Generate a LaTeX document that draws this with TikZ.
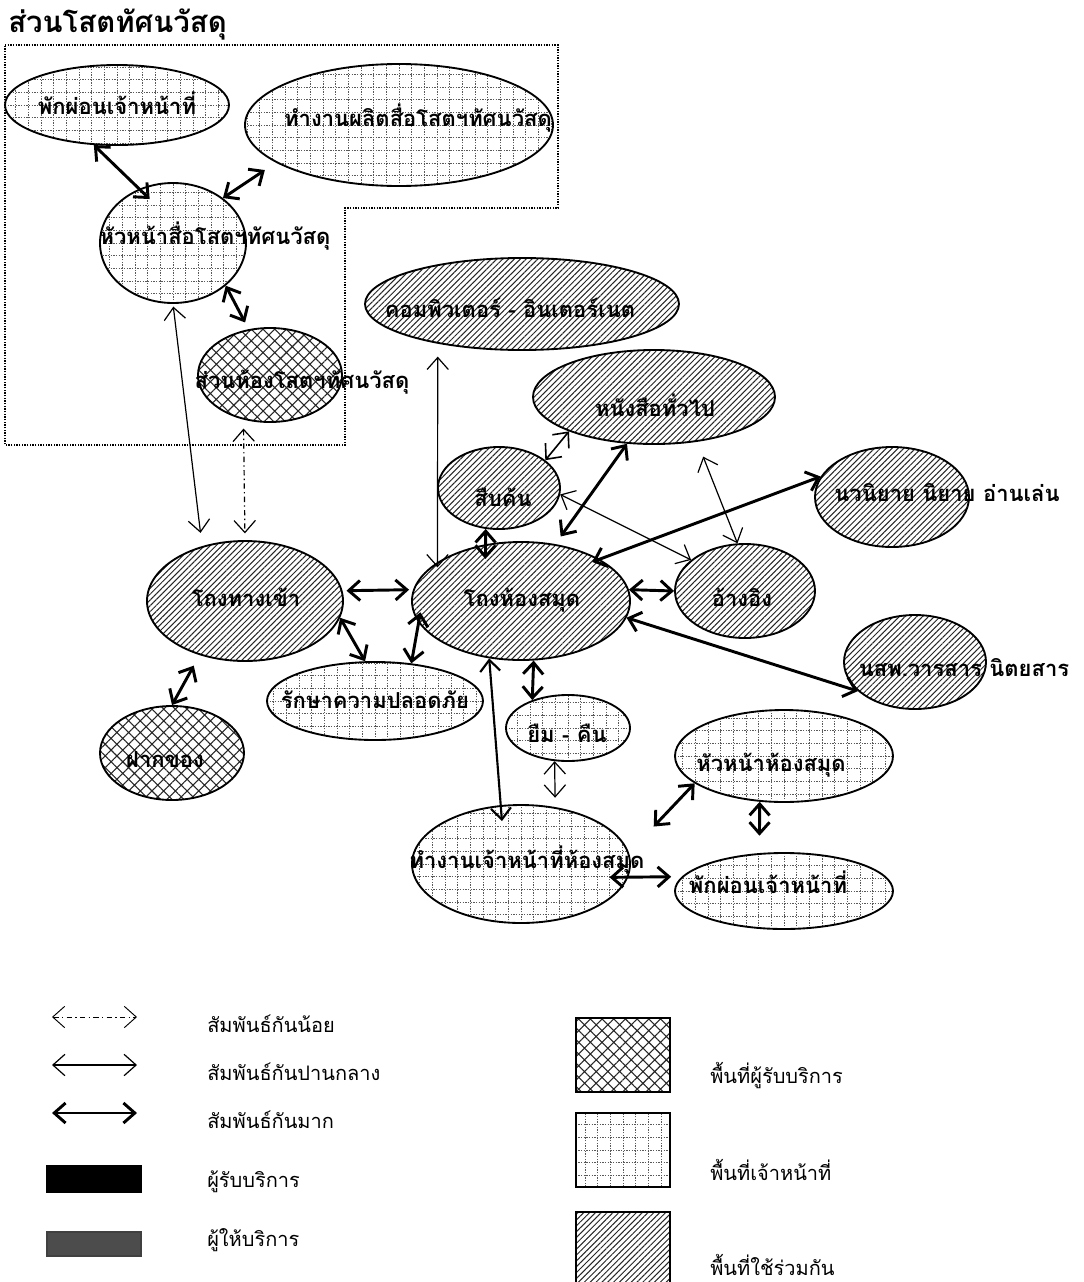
\documentclass[tikz,border=0pt]{standalone}
\usepackage{fontspec}
\newfontfamily\thai[Script=Thai]{Loma}
\usetikzlibrary{shapes.geometric,arrows.meta,patterns.meta}

\tikzset{
  area/.style 2 args={ellipse, draw=black, line width=1.4pt,
    minimum width=1.5pt*#1, minimum height=1.5pt*#2, inner sep=0pt},
  sharedfill/.style={pattern={Lines[angle=45,distance=3.1pt,line width=0.75pt]}, pattern color=black!85},
  clientfill/.style={pattern={Hatch[angle=45,distance=6.2pt,line width=0.8pt]}, pattern color=black!85},
  stafffill/.style={path picture={\draw[black!65, line width=0.55pt, dash pattern=on 1pt off 1pt]
      (path picture bounding box.south west) grid[step=9.5pt] (path picture bounding box.north east);}},
  lbl/.style={font=\thai\bfseries\fontsize{16.5}{19}\selectfont, inner sep=0pt},
  legtext/.style={font=\thai\fontsize{15}{18}\selectfont, inner sep=0pt, anchor=west},
  relstrong/.style={line width=2.2pt, {Straight Barb[length=8.5pt,width=15pt]}-{Straight Barb[length=8.5pt,width=15pt]}},
  relmid/.style={line width=0.9pt, {Straight Barb[length=9pt,width=16pt]}-{Straight Barb[length=9pt,width=16pt]}},
  relweak/.style={line width=0.9pt, dash pattern=on 4pt off 2.5pt on 1pt off 2.5pt,
    {Straight Barb[length=9pt,width=16pt]}-{Straight Barb[length=9pt,width=16pt]}},
  swatch/.style={rectangle, draw=black, line width=1.3pt, inner sep=0pt},
}

\begin{document}
\begin{tikzpicture}[x=0.75pt,y=-0.75pt]
\useasboundingbox (0,0) rectangle (1084,1282);

% audio-visual section boundary
\node[font=\thai\bfseries\fontsize{22}{25}\selectfont, anchor=west, inner sep=0pt] (title) at (8,24) {ส่วนโสตทัศนวัสดุ};
\draw[line width=0.9pt, dash pattern=on 1pt off 1pt] (5,45) -- (558,45) -- (558,208) -- (345,208) -- (345,445) -- (5,445) -- cycle;

% areas
\node[area={112}{40}, stafffill] (pakA) at (117,105) {};
\node[area={154}{61}, stafffill] (prod) at (399,125) {};
\node[area={73}{60}, stafffill] (headAV) at (173,243) {};
\node[area={72}{47}, clientfill] (avroom) at (270,375) {};
\node[area={157}{46}, sharedfill] (comp) at (522,304) {};
\node[area={121}{47}, sharedfill] (books) at (654,397) {};
\node[area={61}{41}, sharedfill] (search) at (499,488) {};
\node[area={77}{50}, sharedfill] (novel) at (892,497) {};
\node[area={109}{59}, sharedfill] (hall) at (521,601) {};
\node[area={70}{47}, sharedfill] (ref) at (745,591) {};
\node[area={71}{47}, sharedfill] (news) at (915,662) {};
\node[area={98}{60}, sharedfill] (entry) at (245,601) {};
\node[area={108}{39}, stafffill] (secur) at (375,701) {};
\node[area={72}{47}, clientfill] (depo) at (172,753) {};
\node[area={62}{33}, stafffill] (loan) at (568,728) {};
\node[area={109}{46}, stafffill] (headLib) at (784,756) {};
\node[area={109}{59}, stafffill] (staff) at (521,864) {};
\node[area={109}{38}, stafffill] (pakB) at (784,891) {};

% relations
\draw[relstrong, shorten >=-11pt] (pakA.-120) -- (headAV.122);
\draw[relstrong, shorten >=10pt] (headAV.42) -- (prod.-163);
\draw[relstrong, shorten >=6pt] (headAV.-39) -- (avroom.115);
\draw[relmid, shorten <=2pt, shorten >=10pt] (headAV.south) -- (entry.128);
\draw[relweak, shorten <=7pt, shorten >=5pt] (avroom.-121) -- (entry.north);
\draw[relmid, shorten <=10pt, shorten >=-4pt] (comp.-155.5) -- (hall.155.9);
\draw[relmid, line width=1.2pt] (search.31) -- (books.-158);
\draw[relstrong, shorten >=7pt] (books.-120) -- (hall.59);
\draw[relstrong, shorten >=-11pt] (search.-108) -- (hall.122);
\draw[relmid] (search.-6) -- (ref.150);
\draw[relmid, shorten <=12pt] (books.-46) -- (ref.99);
\draw[relstrong, shorten >=-6pt] (novel.164) -- (hall.28);
\draw[relstrong] (hall.6) -- (ref.180);
\draw[relstrong] (news.-153) -- (hall.-9);
\draw[relstrong, shorten <=3pt, shorten >=3pt] (entry.6.5) -- (hall.174);
\draw[relstrong] (entry.-10) -- (secur.104);
\draw[relstrong, shorten >=-8pt] (secur.46) -- (hall.-168);
\draw[relstrong, shorten <=9pt] (entry.-130) -- (depo.north);
\draw[relstrong] (hall.-78) -- (loan.142);
\draw[relstrong, line width=1.6pt, shorten >=-12pt] (hall.-119) -- (staff.109);
\draw[relmid, shorten >=7pt] (loan.-112) -- (staff.59);
\draw[relstrong, shorten >=27pt] (headLib.-163) -- (staff.6);
\draw[relstrong, shorten >=13pt] (headLib.-118) -- (pakB.123);
\draw[relstrong, shorten <=-14pt, shorten >=8pt] (staff.-7) -- (pakB.172);

% labels
\node[lbl] (tpakA) at (117,103) {พักผ่อนเจ้าหน้าที่};
\node[lbl] (tprod) at (418,118) {ทำงานผลิตสื่อโสตฯทัศนวัสดุ};
\node[lbl] (theadAV) at (215,236) {หัวหน้าสื่อโสตฯทัศนวัสดุ};
\node[lbl] (tavroom) at (302,382) {ส่วนห้องโสตฯทัศนวัสดุ};
\node[lbl] (tcomp) at (510,308) {คอมพิวเตอร์ - อินเตอร์เนต};
\node[lbl] (tbooks) at (655,405) {หนังสือทั่วไป};
\node[lbl] (tsearch) at (503,497) {สืบค้น};
\node[lbl] (tnovel) at (947,493) {นวนิยาย นิยาย อ่านเล่น};
\node[lbl] (thall) at (522,600) {โถงห้องสมุด};
\node[lbl] (tref) at (742,597) {อ้างอิง};
\node[lbl] (tnews) at (964,668) {นสพ.วารสาร นิตยสาร};
\node[lbl] (tentry) at (246,597) {โถงทางเข้า};
\node[lbl] (tsecur) at (375,700) {รักษาความปลอดภัย};
\node[lbl] (tdepo) at (165,760) {ฝากของ};
\node[lbl] (tloan) at (567,733) {ยืม - คืน};
\node[lbl] (theadLib) at (771,765) {หัวหน้าห้องสมุด};
\node[lbl] (tstaff) at (527,860) {ทำงานเจ้าหน้าที่ห้องสมุด};
\node[lbl] (tpakB) at (768,882) {พักผ่อนเจ้าหน้าที่};

% legend: relation strength
\coordinate (lwa) at (52,1017); \coordinate (lwb) at (137,1017);
\coordinate (lma) at (52,1065); \coordinate (lmb) at (137,1065);
\coordinate (lsa) at (52,1113); \coordinate (lsb) at (137,1113);
\draw[relweak, line width=0.7pt] (lwa) -- (lwb);
\draw[relmid] (lma) -- (lmb);
\draw[relstrong] (lsa) -- (lsb);
\node[legtext] (lw) at (207,1024) {สัมพันธ์กันน้อย};
\node[legtext] (lm) at (207,1072) {สัมพันธ์กันปานกลาง};
\node[legtext] (ls) at (207,1120) {สัมพันธ์กันมาก};

% legend: users
\node[swatch, fill=black, minimum width=71pt, minimum height=19pt] (lrecv) at (94,1179) {};
\node[swatch, draw=black!75, fill=black!70, minimum width=71pt, minimum height=18pt] (lprov) at (94,1244) {};
\node[legtext] (trecv) at (207,1182) {ผู้รับบริการ};
\node[legtext] (tprov) at (207,1240) {ผู้ให้บริการ};

% legend: areas
\node[swatch, clientfill, minimum width=71pt, minimum height=55pt] (lclient) at (623,1055) {};
\node[swatch, stafffill, minimum width=71pt, minimum height=55pt] (lstaff) at (623,1150) {};
\node[swatch, sharedfill, minimum width=71pt, minimum height=57pt] (lshared) at (623,1250) {};
\node[legtext] (tclient) at (710,1075) {พื้นที่ผู้รับบริการ};
\node[legtext] (tstaffarea) at (710,1170) {พื้นที่เจ้าหน้าที่};
\node[legtext] (tshared) at (710,1265) {พื้นที่ใช้ร่วมกัน};
\end{tikzpicture}
\end{document}
